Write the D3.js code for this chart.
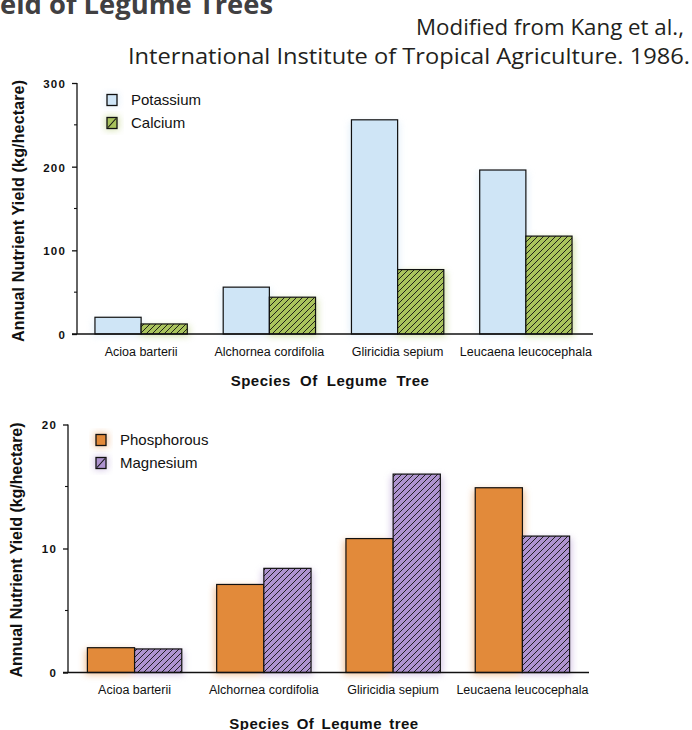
<!DOCTYPE html>
<html><head><meta charset="utf-8">
<script src="https://cdn.jsdelivr.net/npm/d3@7"></script>
<style>
html,body{margin:0;padding:0;background:#fff;overflow:hidden}
svg{display:block}
</style></head>
<body>
<script>
// ---- data ----
const categories = ["Acioa barterii", "Alchornea cordifolia", "Gliricidia sepium", "Leucaena leucocephala"];
const potassium = [20, 56, 256, 196];
const calcium = [12, 44, 77, 117];
const phosphorous = [2.0, 7.1, 10.8, 14.9];
const magnesium = [1.9, 8.4, 16.0, 11.0];
const topTicks = [0, 100, 200, 300];
const topMinor = [50, 150, 250];
const botTicks = [0, 10, 20];
const botMinor = [5, 15];
const topSeries = ["Potassium", "Calcium"];
const botSeries = ["Phosphorous", "Magnesium"];

const W = 692, H = 730;
const svg = d3.select("body").append("svg").attr("width", W).attr("height", H);
const defs = svg.append("defs");

function hatch(id, color) {
  const p = defs.append("pattern").attr("id", id).attr("patternUnits", "userSpaceOnUse")
    .attr("width", 6).attr("height", 6);
  p.append("rect").attr("width", 6).attr("height", 6).attr("fill", color);
  p.append("path").attr("d", "M-1,1 l2,-2 M0,6 l6,-6 M5,7 l2,-2")
    .attr("stroke", "#111").attr("stroke-width", 0.9);
}
hatch("hGreen", "#a9c35c");
hatch("hPurple", "#ae93cf");
defs.append("filter").attr("id", "glow").attr("x", "-30%").attr("y", "-30%").attr("width", "160%").attr("height", "160%")
  .append("feGaussianBlur").attr("stdDeviation", 3.5);

const LABEL_FONT = "'Liberation Sans', Arial, Helvetica, sans-serif";
const TITLE_FONT = "'Open Sans', 'Noto Sans', sans-serif";

// ---- header texts ----
function fitText(sel, target) {
  const w = sel.node().getComputedTextLength();
  const fs = parseFloat(sel.attr("font-size"));
  sel.attr("font-size", fs * target / w);
}
const probe = svg.append("text").attr("font-family", TITLE_FONT).attr("font-weight", 700)
  .attr("font-size", 24).text("eld of Legume Trees");
fitText(probe, 273);
const titleFs = probe.attr("font-size");
probe.remove();
svg.append("text").attr("x", 273).attr("y", 14).attr("text-anchor", "end")
  .attr("font-family", TITLE_FONT).attr("font-weight", 700).attr("font-size", titleFs)
  .attr("fill", "#414042").text("Annual Nutrient Yield of Legume Trees");

svg.append("text").attr("x", 690).attr("y", 64).attr("text-anchor", "end")
  .attr("font-family", TITLE_FONT).attr("font-size", 22.5).attr("fill", "#231f20")
  .attr("textLength", 562).attr("lengthAdjust", "spacingAndGlyphs")
  .text("International Institute of Tropical Agriculture. 1986.");
svg.append("text").attr("x", 684).attr("y", 34.5).attr("text-anchor", "end")
  .attr("font-family", TITLE_FONT).attr("font-size", 22.5).attr("fill", "#231f20")
  .attr("textLength", 268).attr("lengthAdjust", "spacingAndGlyphs")
  .text("Modified from Kang et al.,");

// ---- chart builder ----
function chart(cfg) {
  const g = svg.append("g");
  const x = d3.scaleBand().domain(categories).range(cfg.xRange)
    .paddingInner(cfg.padIn).paddingOuter(cfg.padOut);
  const sub = d3.scaleBand().domain([0, 1]).range([0, x.bandwidth()]);
  const y = d3.scaleLinear().domain(cfg.domain).range(cfg.yRange);
  const y0 = y(0);

  const data = [];
  categories.forEach((c, i) => {
    data.push({ c, k: 0, v: cfg.s0[i] });
    data.push({ c, k: 1, v: cfg.s1[i] });
  });
  // soft airbrush halos
  g.append("g").attr("filter", "url(#glow)").attr("opacity", 0.55).selectAll("rect").data(data).join("rect")
    .attr("x", d => x(d.c) + sub(d.k) - 2).attr("y", d => y(d.v) + 2)
    .attr("width", sub.bandwidth() + 4).attr("height", d => y0 - y(d.v))
    .attr("fill", d => d.k === 0 ? cfg.c0 : cfg.c1glow);
  // bars
  g.append("g").selectAll("rect").data(data).join("rect")
    .attr("x", d => x(d.c) + sub(d.k)).attr("y", d => y(d.v))
    .attr("width", sub.bandwidth()).attr("height", d => y0 - y(d.v))
    .attr("fill", d => d.k === 0 ? cfg.c0 : "url(#" + cfg.pat + ")")
    .attr("stroke", "#111").attr("stroke-width", 1.2);

  // y axis
  const ax = g.append("g").attr("transform", `translate(${cfg.xRange[0]},0)`)
    .call(d3.axisLeft(y).tickValues(cfg.ticks).tickSize(5).tickPadding(6).tickFormat(d3.format("d")));
  ax.select(".domain").attr("d", `M0,${y(cfg.domain[1])}V${y0}`).attr("stroke", "#111").attr("stroke-width", 1.3);
  ax.selectAll(".tick line").attr("stroke", "#111").attr("stroke-width", 1.3);
  ax.selectAll(".tick text").attr("font-family", LABEL_FONT).attr("font-weight", 700)
    .attr("font-size", 11.5).attr("letter-spacing", 1.2).attr("fill", "#111").attr("dy", "0.38em");
  ax.attr("font-size", null).attr("font-family", null);
  g.append("g").selectAll("line").data(cfg.minor).join("line")
    .attr("x1", cfg.xRange[0] - 3).attr("x2", cfg.xRange[0])
    .attr("y1", d => y(d)).attr("y2", d => y(d)).attr("stroke", "#111").attr("stroke-width", 1.1);
  // baseline
  g.append("line").attr("x1", cfg.xRange[0] - 5).attr("x2", cfg.baseEnd)
    .attr("y1", y0).attr("y2", y0).attr("stroke", "#111").attr("stroke-width", 1.4);

  // category labels
  g.append("g").selectAll("text").data(categories).join("text")
    .attr("x", d => x(d) + x.bandwidth() / 2).attr("y", cfg.catY).attr("text-anchor", "middle")
    .attr("font-family", LABEL_FONT).attr("font-size", 12.5).attr("fill", "#111").text(d => d);
  // x title
  g.append("text").attr("x", cfg.xtX).attr("y", cfg.xtY).attr("text-anchor", "middle")
    .attr("font-family", LABEL_FONT).attr("font-weight", 700).attr("font-size", 15)
    .attr("letter-spacing", 0.5).attr("word-spacing", cfg.xtWord)
    .attr("fill", "#111").text(cfg.xTitle);
  // y title
  g.append("text").attr("transform", `translate(${cfg.ytX},${cfg.ytY}) rotate(-90)`)
    .attr("text-anchor", "middle").attr("font-family", LABEL_FONT).attr("font-weight", 700)
    .attr("font-size", 16).attr("textLength", cfg.ytLen).attr("lengthAdjust", "spacing")
    .attr("fill", "#111").text("Annual Nutrient Yield (kg/hectare)");

  // legend
  const lg = g.append("g");
  cfg.series.forEach((name, i) => {
    const cy = cfg.legY[i];
    lg.append("rect").attr("x", cfg.legX - 2).attr("y", cy - 7).attr("width", 14).attr("height", 14)
      .attr("fill", i === 0 ? cfg.c0 : cfg.c1glow).attr("opacity", 0.5).attr("filter", "url(#glow)");
    lg.append("rect").attr("x", cfg.legX).attr("y", cy - 5.5).attr("width", 10).attr("height", 11)
      .attr("fill", i === 0 ? cfg.c0 : cfg.c1glow).attr("stroke", "#111").attr("stroke-width", 1.3);
    if (i === 1) lg.append("line").attr("x1", cfg.legX + 1).attr("y1", cy + 4.5)
      .attr("x2", cfg.legX + 9).attr("y2", cy - 4.5).attr("stroke", "#111").attr("stroke-width", 1.1);
    lg.append("text").attr("x", cfg.legX + 24).attr("y", cy + 5.3)
      .attr("font-family", LABEL_FONT).attr("font-size", 15).attr("fill", "#111").text(name);
  });
}

chart({
  s0: potassium, s1: calcium, c0: "#cfe5f6", c1glow: "#a9c35c", pat: "hGreen",
  domain: [0, 300], yRange: [334, 83], xRange: [77, 590], padIn: 0.28, padOut: 0.14,
  ticks: topTicks, minor: topMinor, baseEnd: 593,
  catY: 355.5, xTitle: "Species Of Legume Tree", xtX: 330, xtY: 386, xtWord: 4.5,
  ytX: 24, ytY: 211, ytLen: 262,
  series: topSeries, legX: 107, legY: [100, 123]
});
chart({
  s0: phosphorous, s1: magnesium, c0: "#e28a3a", c1glow: "#ae93cf", pat: "hPurple",
  domain: [0, 20], yRange: [672.5, 424.5], xRange: [68, 589], padIn: 0.27, padOut: 0.15,
  ticks: botTicks, minor: botMinor, baseEnd: 589,
  catY: 693.5, xTitle: "Species Of Legume tree", xtX: 324, xtY: 728.5, xtWord: 2.5,
  ytX: 22, ytY: 550, ytLen: 255,
  series: botSeries, legX: 96, legY: [440, 463]
});
</script>
</body></html>
